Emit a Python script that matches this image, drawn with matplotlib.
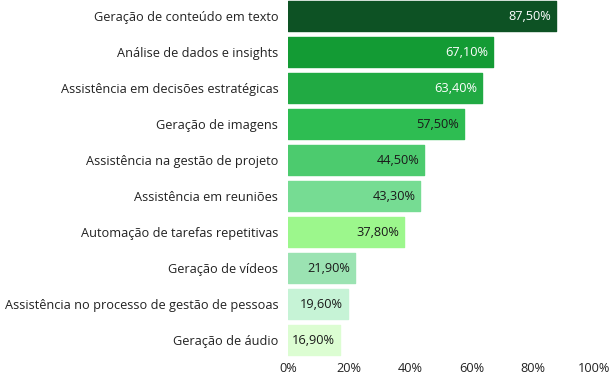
import matplotlib.pyplot as plt
import numpy as np

plt.rcParams['font.family'] = ['Open Sans', 'DejaVu Sans']

categorias = ["Geração de conteúdo em texto", "Análise de dados e insights",
              "Assistência em decisões estratégicas", "Geração de imagens",
              "Assistência na gestão de projeto", "Assistência em reuniões",
              "Automação de tarefas repetitivas", "Geração de vídeos",
              "Assistência no processo de gestão de pessoas", "Geração de áudio"]
valores = [87.5, 67.1, 63.4, 57.5, 44.5, 43.3, 37.8, 21.9, 19.6, 16.9]
cores = ["#0d5224", "#139b34", "#21aa43", "#2ebd52", "#4ccb6e", "#76dc93",
         "#9cf78c", "#9be3b2", "#c6f3d6", "#dcfdd2"]
cor_texto = ["white", "white", "white", "#1a1a1a", "#1a1a1a", "#1a1a1a",
             "#1a1a1a", "#1a1a1a", "#1a1a1a", "#1a1a1a"]
ticks = [0, 20, 40, 60, 80, 100]

fig = plt.figure(figsize=(6.12, 3.74), dpi=100)
ax = fig.add_axes([288/612, 1 - 358/374, 306/612, 358/374])

y = np.arange(len(categorias))
ax.barh(y, valores, height=0.86, color=cores, edgecolor=cores,
        linewidth=1, joinstyle='round')

for i, v in enumerate(valores):
    ax.text(v - 1.6, i, f"{v:.2f}%".replace('.', ','), ha='right', va='center',
            fontsize=9.2, color=cor_texto[i])

ax.set_xlim(0, 100)
ax.set_ylim(9.5, -16/36)
ax.set_yticks(y)
ax.set_yticklabels(categorias, fontsize=9.2, color='#222222')
ax.set_xticks(ticks)
ax.set_xticklabels([f"{t}%" for t in ticks], fontsize=9.2, color='#222222')
ax.tick_params(length=0, axis='y', pad=7)
ax.tick_params(length=0, axis='x', pad=3)
for s in ax.spines.values():
    s.set_visible(False)

fig.savefig("out.png", dpi=100)
